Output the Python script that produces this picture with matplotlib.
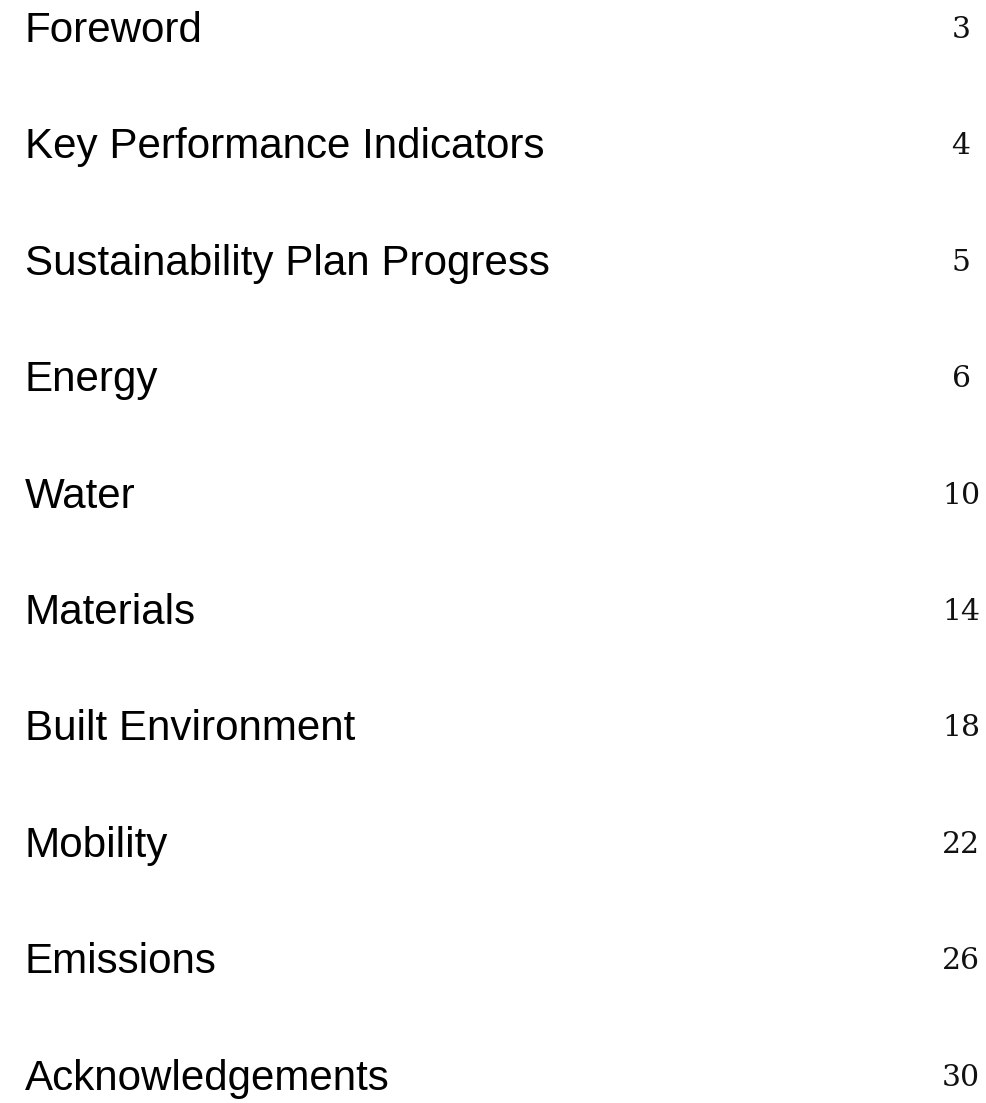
import matplotlib
matplotlib.use("Agg")
import matplotlib.pyplot as plt

sections = ["Foreword", "Key Performance Indicators", "Sustainability Plan Progress",
            "Energy", "Water", "Materials", "Built Environment", "Mobility",
            "Emissions", "Acknowledgements"]
pages = ["3", "4", "5", "6", "10", "14", "18", "22", "26", "30"]

W, H = 987, 1103
fig = plt.figure(figsize=(W / 100, H / 100), dpi=100)
ax = fig.add_axes([0, 0, 1, 1])
ax.set_xlim(0, 1)
first_baseline, step = 42.0, 116.4
ax.set_ylim((H - first_baseline) / step, -first_baseline / step)
ax.axis("off")

for i, (s, p) in enumerate(zip(sections, pages)):
    ax.text(0.025, i, s, ha="left", va="baseline", fontsize=30.3,
            family="Liberation Sans", color="#000000")
    ax.text(0.9737, i - 0.035, p, ha="center", va="baseline", fontsize=21.5,
            family="DejaVu Serif", color="#111111")

fig.savefig("out.png", dpi=100)
